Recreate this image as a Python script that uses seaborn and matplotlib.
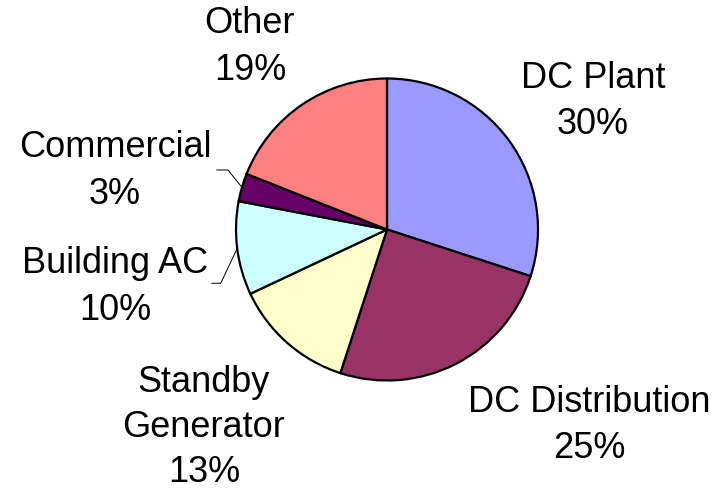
import numpy as np
import matplotlib
matplotlib.use("Agg")
import matplotlib.pyplot as plt
import seaborn as sns

# Share of energy use by category (percent)
categories = ["DC Plant", "DC Distribution", "Standby\nGenerator", "Building AC", "Commercial", "Other"]
shares = [30, 25, 13, 10, 3, 19]
slice_colors = ["#9999FF", "#993366", "#FFFFCC", "#CCFFFF", "#660066", "#FF8080"]

sns.set_theme(style="white")
plt.rcParams["font.family"] = ["Liberation Sans", "DejaVu Sans"]

W, H = 713, 490
fig = plt.figure(figsize=(W / 100, H / 100), dpi=100)
ax = fig.add_axes([0, 0, 1, 1])

# layout in pixel units (y measured from the top)
cx, cy, R = 387, 229.5, 151
palette = sns.color_palette(slice_colors)

wedges, _ = ax.pie(
    shares,
    colors=palette,
    startangle=90,
    counterclock=False,
    center=(cx, H - cy),
    radius=R,
    wedgeprops=dict(edgecolor="black", linewidth=1.6),
)
ax.set_xlim(0, W)
ax.set_ylim(0, H)
ax.set_aspect("equal")
ax.axis("off")

# label anchors: (x centre, first baseline, line step) in pixels from the top
label_pos = [(593, 88.5, 46), (589, 411.5, 46.5), (204, 391.5, 45),
             (115, 273, 47.5), (115, 157, 46.5), (250, 33, 47)]
fs = 26

for name, val, (lx, ly, step) in zip(categories, shares, label_pos):
    lines = name.split("\n") + [f"{val}%"]
    for i, t in enumerate(lines):
        ax.text(lx, H - (ly + i * step), t, ha="center", va="baseline",
                fontsize=fs, color="black")

# leader lines for the two small slices on the left
leaders = {3: [(220.7, 283.3), (211.7, 283.3)], 4: [(228, 170), (216.7, 170)]}
for idx, pts in leaders.items():
    w = wedges[idx]
    mid = np.deg2rad((w.theta1 + w.theta2) / 2)
    sx = cx + R * np.cos(mid)
    sy = (H - cy) + R * np.sin(mid)
    xs = [sx] + [p[0] for p in pts]
    ys = [sy] + [H - p[1] for p in pts]
    ax.plot(xs, ys, color="black", linewidth=0.7)

fig.savefig("out.png", dpi=100)
